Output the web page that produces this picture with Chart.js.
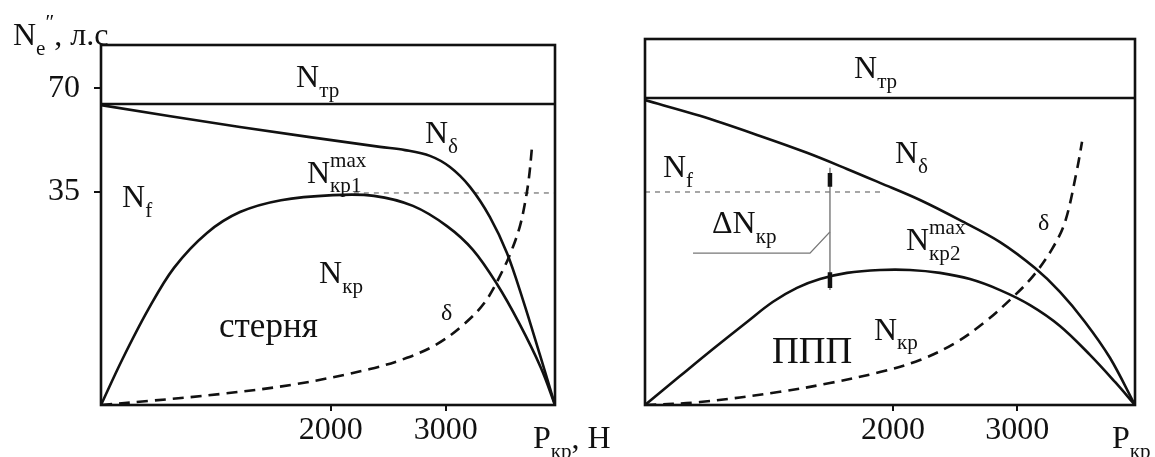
<!DOCTYPE html>
<html>
<head>
<meta charset="utf-8">
<script src="https://cdn.jsdelivr.net/npm/chart.js@4.4.1/dist/chart.umd.min.js"></script>
<style>
  html, body { margin: 0; padding: 0; background: #fff; }
  body { width: 1155px; height: 457px; position: relative; overflow: hidden; }
  .panel { position: absolute; top: 0; height: 457px; }
  #leftWrap { left: 0; width: 640px; }
  #rightWrap { left: 580px; width: 575px; }
</style>
</head>
<body>
<div class="panel" id="leftWrap"><canvas id="stubbleChart"></canvas></div>
<div class="panel" id="rightWrap"><canvas id="fieldChart"></canvas></div>
<script>
// Axes: P_кр in N; power in relative plot units (0 = bottom of frame, 100 = top)
const xMax = 3950;
const xTicks = [2000, 3000];
const yTickPos = [59.2, 88.0];
const yTickLabels = ['35', '70'];

// Left panel - стерня
const stubbleNtrX = [0, 3950];
const stubbleNtrY = [83.6, 83.6];
const stubbleNdX = [0, 1209, 2427, 2645, 2862, 3036, 3210, 3384, 3532, 3671, 3819, 3950];
const stubbleNdY = [83.3, 77.2, 71.7, 70.8, 69.2, 66.1, 60.6, 52.2, 42.2, 29.2, 13.9, 0];
const stubbleNkrX = [0, 183, 409, 635, 922, 1209, 1566, 2018, 2375, 2714, 3010, 3236, 3445, 3637, 3828, 3950];
const stubbleNkrY = [0, 12.5, 26.4, 38.1, 47.8, 53.6, 56.9, 58.3, 58.1, 55.3, 49.7, 43.1, 33.6, 22.8, 10.3, 0];
const stubbleSlipX = [0, 409, 1053, 1697, 2340, 2662, 2923, 3149, 3341, 3497, 3584, 3645, 3689, 3724, 3750];
const stubbleSlipY = [0, 1.1, 3.1, 5.8, 10.0, 13.1, 16.9, 22.2, 28.6, 37.5, 43.9, 49.7, 56.1, 63.3, 71.7];
const stubbleLevelX = [2200, 3950];
const stubbleLevelY = [58.9, 58.9];

// Right panel - ППП
const fieldNtrX = [0, 3950];
const fieldNtrY = [83.9, 83.9];
const fieldNdX = [0, 443, 927, 1306, 1628, 1894, 2217, 2539, 2862, 3144, 3345, 3547, 3748, 3950];
const fieldNdY = [83.3, 79.0, 73.5, 68.9, 64.5, 60.7, 56.0, 50.5, 44.5, 37.4, 30.9, 22.7, 12.9, 0];
const fieldNkrX = [0, 282, 548, 822, 1032, 1225, 1411, 1628, 1894, 2136, 2378, 2620, 2862, 3104, 3345, 3587, 3789, 3950];
const fieldNkrY = [0, 7.9, 15.3, 22.7, 28.2, 32.0, 34.4, 36.1, 36.9, 36.9, 36.1, 34.4, 31.4, 27.3, 21.6, 13.7, 6.3, 0];
const fieldSlipX = [0, 443, 1088, 1491, 1894, 2217, 2499, 2741, 2966, 3128, 3281, 3386, 3482, 3523];
const fieldSlipY = [0, 0.8, 3.6, 6.0, 9.0, 12.3, 16.9, 22.7, 29.5, 35.2, 42.6, 50.0, 64.2, 71.9];
const fieldLevelX = [0, 1935];
const fieldLevelY = [58.2, 58.2];
// ΔN_кр dimension line and its leader
const deltaX = [1491, 1491];
const deltaY = [64.8, 31.4];
const deltaTopY = [63.4, 59.6];
const deltaBottomY = [36.3, 32.0];
const leaderX = [387, 1330, 1491];
const leaderY = [41.5, 41.5, 47.3];

const INK = '#111';
const FAMILY = '"Liberation Serif", "DejaVu Serif", serif';
const SIZE = 32;

// Helpers
const pts = (xs, ys) => xs.map((x, i) => ({ x, y: ys[i] }));

// datasets are listed back to front; `order` keeps that stacking
let drawOrder = 100;
function curve(xs, ys, extra) {
  return Object.assign({
    data: pts(xs, ys),
    borderColor: INK,
    borderWidth: 2.6,
    pointRadius: 0,
    fill: false,
    tension: 0.35,
    order: drawOrder--
  }, extra);
}

function drawRich(ctx, px, py, parts, size) {
  let cx = px;
  parts.forEach(([t, kind, hold]) => {
    const s = kind ? size * 0.66 : size;
    const dy = kind === 'sub' ? size * 0.3 : kind === 'sup' ? -size * 0.5 : 0;
    ctx.font = `${s}px ${FAMILY}`;
    ctx.fillText(t, cx, py + dy);
    if (!hold) cx += ctx.measureText(t).width;
  });
}

// Frame round the plot area
const framePlugin = {
  id: 'frame',
  afterDatasetsDraw(chart) {
    const { ctx, chartArea: a } = chart;
    ctx.save();
    ctx.strokeStyle = INK;
    ctx.lineWidth = 2.6;
    ctx.strokeRect(a.left, a.top, a.right - a.left, a.bottom - a.top);
    ctx.restore();
  }
};

// Curve names and axis titles
const textPlugin = {
  id: 'texts',
  afterDraw(chart, args, opts) {
    const { ctx, chartArea: a, scales } = chart;
    ctx.save();
    ctx.fillStyle = INK;
    ctx.textBaseline = 'alphabetic';
    ctx.textAlign = 'left';
    (opts.items || []).forEach(item => {
      let px, py;
      if (item.anchor === 'rightBottom') { px = a.right + item.dx; py = a.bottom + item.dy; }
      else if (item.anchor === 'leftTop') { px = a.left + item.dx; py = a.top + item.dy; }
      else { px = scales.x.getPixelForValue(item.x); py = scales.y.getPixelForValue(item.y); }
      drawRich(ctx, px, py, item.parts, item.size || SIZE);
    });
    ctx.restore();
  }
};

function xScale() {
  return {
    type: 'linear', min: 0, max: xMax,
    afterBuildTicks: s => { s.ticks = xTicks.map(v => ({ value: v })); },
    afterFit: s => { s.height = 52; },
    ticks: { color: INK, font: { family: FAMILY, size: SIZE }, padding: 0, maxRotation: 0, autoSkip: false, callback: v => String(v) },
    grid: { drawOnChartArea: false, drawTicks: true, tickLength: 6, color: INK, lineWidth: 2 },
    border: { display: false }
  };
}

function makeChart(id, yWidth, padTop, padRight, withYTicks, datasets, items) {
  return new Chart(document.getElementById(id), {
    type: 'line',
    data: { datasets },
    options: {
      responsive: true,
      maintainAspectRatio: false,
      animation: false,
      layout: { padding: { left: 0, top: padTop, right: padRight, bottom: 0 } },
      plugins: { legend: { display: false }, tooltip: { enabled: false }, texts: { items } },
      scales: {
        x: xScale(),
        y: {
          type: 'linear', min: 0, max: 100,
          afterBuildTicks: s => { s.ticks = withYTicks ? yTickPos.map(v => ({ value: v })) : []; },
          afterFit: s => { s.width = yWidth; },
          ticks: { display: withYTicks, color: INK, font: { family: FAMILY, size: SIZE }, padding: 14, callback: (v, i) => yTickLabels[i] },
          grid: { drawOnChartArea: false, drawTicks: true, tickLength: 7, color: INK, lineWidth: 2 },
          border: { display: false }
        }
      }
    },
    plugins: [framePlugin, textPlugin]
  });
}

const straight = { tension: 0 };
const levelStyle = { borderColor: '#8a8a8a', borderWidth: 1.5, borderDash: [5, 5], tension: 0 };
const slipStyle = { borderDash: [11, 7] };
const thinGrey = { borderColor: '#777', borderWidth: 1.4, tension: 0 };
const arrowMark = { borderWidth: 4.5, tension: 0 };

makeChart('stubbleChart', 101, 45, 85, true, [
  curve(stubbleLevelX, stubbleLevelY, levelStyle),
  curve(stubbleNtrX, stubbleNtrY, straight),
  curve(stubbleNdX, stubbleNdY),
  curve(stubbleNkrX, stubbleNkrY),
  curve(stubbleSlipX, stubbleSlipY, slipStyle)
], [
  { x: 1697, y: 88.3, parts: [['N'], ['тр', 'sub']] },
  { x: 2819, y: 72.8, parts: [['N'], ['δ', 'sub']] },
  { x: 1792, y: 61.7, parts: [['N'], ['max', 'sup', true], ['кр1', 'sub']] },
  { x: 183, y: 55.0, parts: [['N'], ['f', 'sub']] },
  { x: 1897, y: 33.9, parts: [['N'], ['кр', 'sub']] },
  { x: 1027, y: 18.9, parts: [['стерня']], size: 35 },
  { x: 2958, y: 23.6, parts: [['δ']], size: 24 },
  { anchor: 'rightBottom', dx: -22, dy: 43, parts: [['P'], ['кр', 'sub'], [', Н']] },
  { anchor: 'leftTop', dx: -88, dy: 0, parts: [['N'], ['e', 'sub'], ['\u2033', 'sup'], [', л.с']] }
]);

makeChart('fieldChart', 65, 39, 20, false, [
  curve(fieldLevelX, fieldLevelY, levelStyle),
  curve(leaderX, leaderY, thinGrey),
  curve(deltaX, deltaY, thinGrey),
  curve(deltaX, deltaTopY, arrowMark),
  curve(deltaX, deltaBottomY, arrowMark),
  curve(fieldNtrX, fieldNtrY, straight),
  curve(fieldNdX, fieldNdY),
  curve(fieldNkrX, fieldNkrY),
  curve(fieldSlipX, fieldSlipY, slipStyle)
], [
  { x: 1685, y: 89.3, parts: [['N'], ['тр', 'sub']] },
  { x: 2015, y: 66.1, parts: [['N'], ['δ', 'sub']] },
  { x: 145, y: 62.3, parts: [['N'], ['f', 'sub']] },
  { x: 540, y: 47.0, parts: [['ΔN'], ['кр', 'sub']] },
  { x: 2104, y: 42.3, parts: [['N'], ['max', 'sup', true], ['кр2', 'sub']] },
  { x: 3168, y: 47.8, parts: [['δ']], size: 24 },
  { x: 1846, y: 17.8, parts: [['N'], ['кр', 'sub']] },
  { x: 1024, y: 11.5, parts: [['ППП']], size: 37 },
  { anchor: 'rightBottom', dx: -23, dy: 43, parts: [['P'], ['кр', 'sub']] }
]);
</script>
</body>
</html>
